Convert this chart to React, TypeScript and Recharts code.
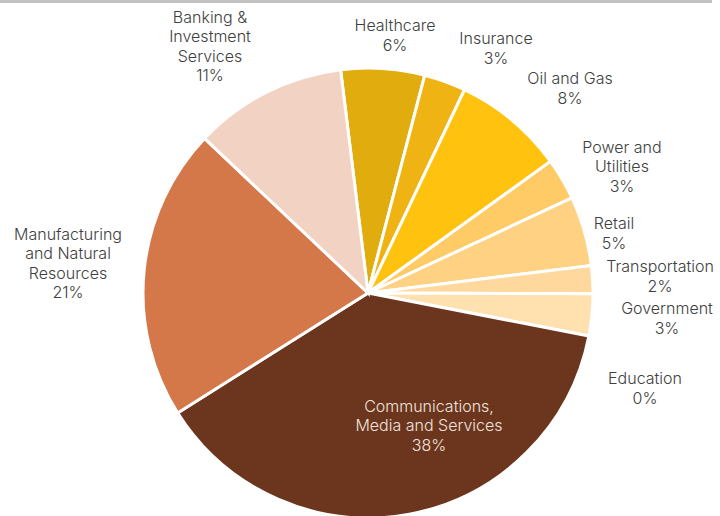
import React from "react";
import { PieChart, Pie, Cell } from "recharts";

// Share of revenue by industry, clockwise from the top
const categories = [
  "Healthcare",
  "Insurance",
  "Oil and Gas",
  "Power and Utilities",
  "Retail",
  "Transportation",
  "Government",
  "Education",
  "Communications, Media and Services",
  "Manufacturing and Natural Resources",
  "Banking & Investment Services",
];
const shares = [6, 3, 8, 3, 5, 2, 3, 0, 38, 21, 11];

const sliceColors = [
  "#e1ac0e",
  "#efb313",
  "#ffc30f",
  "#ffcb66",
  "#ffd182",
  "#ffd89e",
  "#ffe1b0",
  "#ffe8c4",
  "#6c361e",
  "#d4784a",
  "#f2d2c3",
];

// how each label is broken over lines
const labelLines: Record<string, string[]> = {
  "Power and Utilities": ["Power and", "Utilities"],
  "Communications, Media and Services": ["Communications,", "Media and Services"],
  "Manufacturing and Natural Resources": ["Manufacturing", "and Natural", "Resources"],
  "Banking & Investment Services": ["Banking &", "Investment", "Services"],
};

// label block centres, relative to the pie centre
const labelOffset: Record<string, [number, number]> = {
  Healthcare: [27, -258],
  Insurance: [128, -245],
  "Oil and Gas": [202, -205],
  "Power and Utilities": [254, -127],
  Retail: [246, -60],
  Transportation: [292, -17],
  Government: [299, 25],
  Education: [277, 95],
  "Communications, Media and Services": [61, 132],
  "Manufacturing and Natural Resources": [-300, -30],
  "Banking & Investment Services": [-158, -247],
};

const data = categories.map((name, i) => ({ name, value: shares[i] }));

const LINE_H = 19.5;

function renderLabel(props: any) {
  const { cx, cy, name, value } = props;
  const [dx, dy] = labelOffset[name] ?? [0, 0];
  const lines = [...(labelLines[name] ?? [name]), `${value}%`];
  const x = cx + dx;
  const top = cy + dy - ((lines.length - 1) * LINE_H) / 2;
  const inside = name.startsWith("Communications");
  return (
    <text
      x={x}
      y={top}
      textAnchor="middle"
      dominantBaseline="central"
      fill={inside ? "#efe4de" : "#404040"}
      fontSize={16}
      fontFamily="Inter, 'Noto Sans', sans-serif"
      fontWeight={300}
    >
      {lines.map((l, i) => (
        <tspan key={i} x={x} dy={i === 0 ? 0 : LINE_H}>
          {l}
        </tspan>
      ))}
    </text>
  );
}

export default function App() {
  return (
    <div style={{ position: "relative", width: 720, height: 516, background: "#fff", overflow: "hidden" }}>
      <style>{`body{margin:0}`}</style>
      <div
        style={{
          position: "absolute",
          left: 0,
          top: 0,
          width: 712,
          height: 3,
          background: "#c2c2c2",
        }}
      />
      <PieChart width={720} height={516} margin={{ top: 0, right: 0, bottom: 0, left: 0 }}>
        <Pie
          data={data}
          dataKey="value"
          nameKey="name"
          cx={368}
          cy={293}
          outerRadius={225}
          startAngle={97}
          endAngle={-263}
          stroke="#ffffff"
          strokeWidth={3}
          label={renderLabel}
          labelLine={false}
          isAnimationActive={false}
        >
          {data.map((d, i) => (
            <Cell key={d.name} fill={sliceColors[i]} />
          ))}
        </Pie>
      </PieChart>
    </div>
  );
}
